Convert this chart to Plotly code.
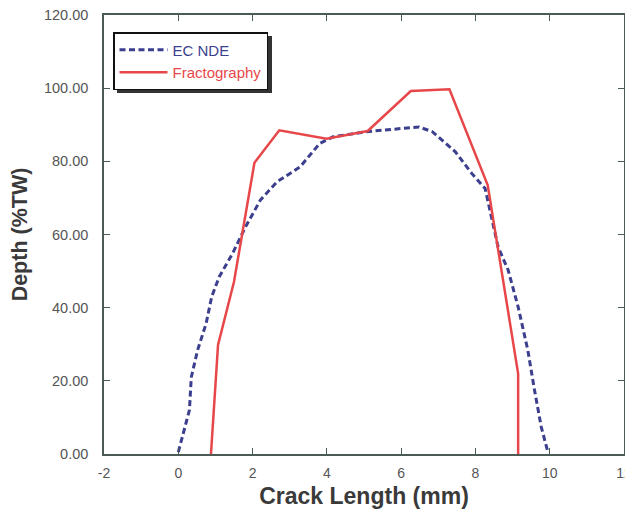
import plotly.graph_objects as go

ec_x = [0.0, 0.30, 0.35, 0.52, 0.75, 0.90, 1.10, 1.46, 1.81, 2.21, 2.66, 3.28, 3.81, 4.17, 5.06, 5.95, 6.48, 6.84, 7.46, 7.90, 8.26, 8.61, 8.88, 9.15, 9.41, 9.59, 9.77, 9.95]
ec_y = [0.5, 12.0, 21.0, 28.4, 35.7, 43.0, 48.4, 54.8, 62.1, 69.4, 74.4, 78.5, 84.9, 86.7, 88.1, 89.0, 89.4, 88.1, 82.6, 76.7, 72.6, 56.6, 50.3, 40.2, 28.4, 17.5, 7.5, 0.5]

fr_x = [0.88, 1.07, 1.50, 2.05, 2.72, 3.99, 5.10, 6.26, 7.30, 8.33, 9.15, 9.15]
fr_y = [0.0, 29.8, 47.1, 79.6, 88.5, 86.2, 88.3, 99.2, 99.7, 73.5, 22.0, 0.0]

x_ticks = [-2, 0, 2, 4, 6, 8, 10, 12]
x_ticklabels = ["-2", "0", "2", "4", "6", "8", "10", "12"]

blue = "#3b3f8e"
red = "#e8474a"
axis_col = "#4a5a55"
tick_col = "#555555"

# page body has an 8px offset; figure is sized so that plot edges land at
# x: 104..624, y: 15..454 in the window
OFF = 8
W, H = 633 - OFF, 511 - OFF
L, R, T, B = 104 - OFF, 9, 15 - OFF, 57
pw, ph = W - L - R, H - T - B

def px(xw):
    return (xw - OFF - L) / pw

def py(yw):
    return (H - B - (yw - OFF)) / ph

fig = go.Figure()
fig.add_trace(go.Scatter(x=ec_x, y=ec_y, mode="lines",
                         name="<span style='color:%s'>EC NDE</span>" % blue,
                         line=dict(color=blue, width=3, dash="6px,3.5px")))
fig.add_trace(go.Scatter(x=fr_x, y=fr_y, mode="lines",
                         name="<span style='color:%s'>Fractography</span>" % red,
                         line=dict(color=red, width=2.5)))

# legend shadow
fig.add_shape(type="rect", xref="paper", yref="paper",
              x0=px(117), x1=px(272), y0=py(93), y1=py(36),
              fillcolor="#333333", line=dict(width=0), layer="above")

fig.update_layout(
    width=W, height=H,
    margin=dict(l=L, r=R, t=T, b=B),
    plot_bgcolor="white", paper_bgcolor="white",
    font=dict(family="Arial, Liberation Sans, sans-serif", color=tick_col, size=14),
    showlegend=True,
    legend=dict(x=px(113), y=py(32), xanchor="left", yanchor="top",
                bgcolor="white", bordercolor="#111111", borderwidth=1.5,
                font=dict(size=15), tracegroupgap=0, itemwidth=48,
                traceorder="normal"),
    xaxis=dict(range=[-2, 12], tickmode="array", tickvals=x_ticks, ticktext=x_ticklabels,
               showgrid=False, zeroline=False, automargin=False, ticklabeloverflow="allow",
               showline=True, linecolor=axis_col, linewidth=1.5, mirror="allticks",
               ticks="inside", ticklen=6, tickcolor=axis_col, ticklabelstandoff=5,
               tickfont=dict(size=14, color=tick_col),
               title=dict(text="<b>Crack Length (mm)</b>", font=dict(size=23, color="#3a3a3a"), standoff=8)),
    yaxis=dict(range=[0, 120], dtick=20, tickformat=".2f", showgrid=False, zeroline=False,
               automargin=False, ticklabeloverflow="allow",
               showline=True, linecolor=axis_col, linewidth=1.5, mirror="allticks",
               ticks="inside", ticklen=6, tickcolor=axis_col, ticklabelstandoff=11,
               tickfont=dict(size=14.5, color=tick_col),
               title=dict(text="<b>Depth (%TW)</b>", font=dict(size=21.5, color="#3a3a3a"), standoff=14)),
)

fig.write_html("out.html")
